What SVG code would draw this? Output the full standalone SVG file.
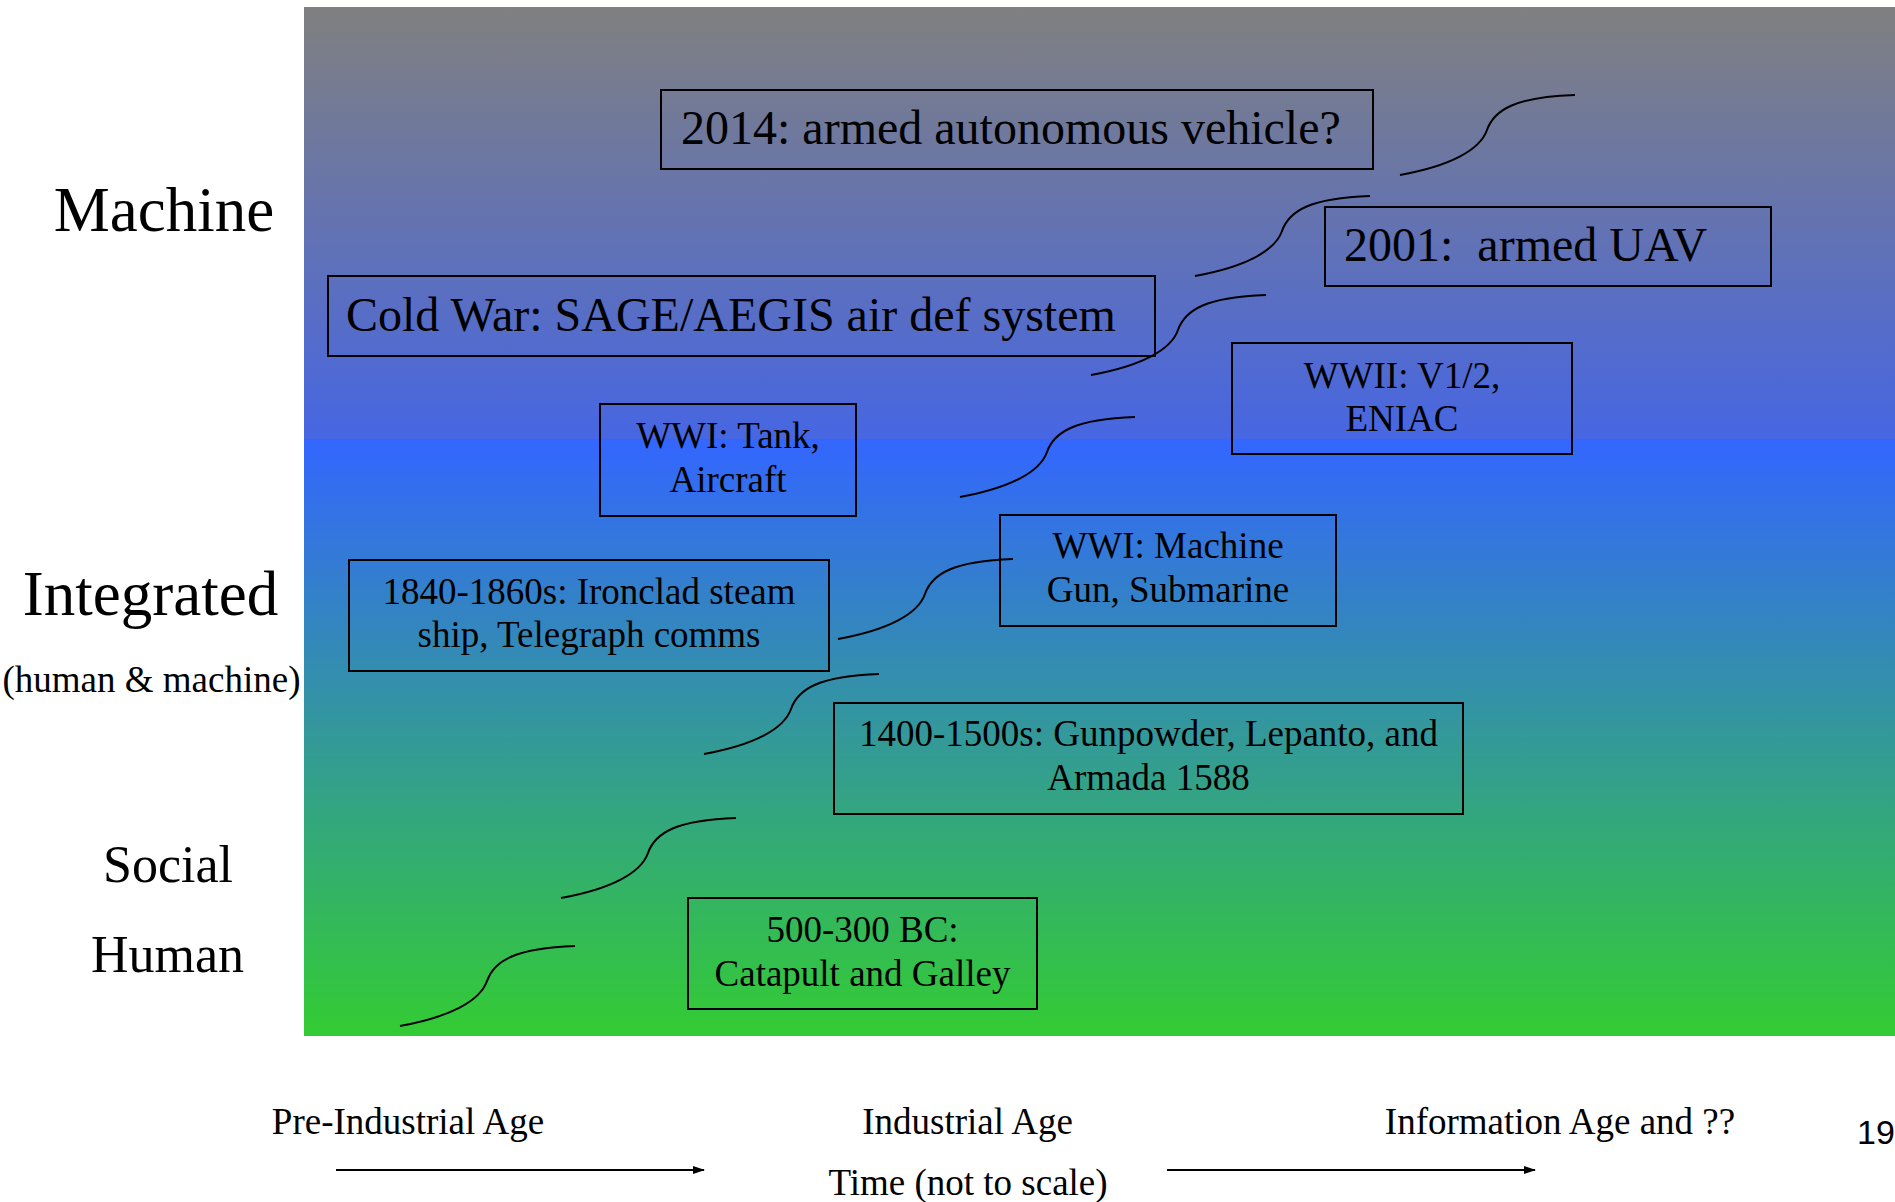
<svg xmlns="http://www.w3.org/2000/svg" width="1895" height="1202" viewBox="0 0 1895 1202">
<defs>
<linearGradient id="gTop" x1="0" y1="0" x2="0" y2="1">
<stop offset="0" stop-color="#808080"/>
<stop offset="1" stop-color="#4766E2"/>
</linearGradient>
<linearGradient id="gBot" x1="0" y1="0" x2="0" y2="1">
<stop offset="0" stop-color="#3366FF"/>
<stop offset="1" stop-color="#33CC33"/>
</linearGradient>
<path id="wave" d="M0,0 C50,-9 80,-25 87,-45 C94,-65 115,-78 175,-80" fill="none" stroke="#000" stroke-width="2"/>
<marker id="arr" markerWidth="12" markerHeight="8" refX="11" refY="4" orient="auto" markerUnits="userSpaceOnUse">
<path d="M0,0 L12,4 L0,8 z" fill="#000"/>
</marker>
</defs>
<style>
.box{fill:none;stroke:#000;stroke-width:2}
.serif{font-family:"Liberation Serif","Times New Roman",serif;fill:#000}
.t48{font-size:48px}
.t37{font-size:37px;text-anchor:middle}
.big{font-size:63px;text-anchor:middle}
.mid{font-size:52px;text-anchor:middle}
.axis{stroke:#000;stroke-width:2;fill:none}
</style>

<g id="background">
<rect x="304" y="7" width="1591" height="432" fill="url(#gTop)"/>
<rect x="304" y="439" width="1591" height="597" fill="url(#gBot)"/>
</g>

<g id="labels" class="serif">
<text class="big" x="164" y="231">Machine</text>
<text class="big" x="150.5" y="615">Integrated</text>
<text class="t37" x="151.5" y="692">(human &amp; machine)</text>
<text class="mid" x="168" y="882">Social</text>
<text class="mid" x="167.5" y="972">Human</text>
</g>

<g id="connectors">
<use href="#wave" x="1400" y="175"/>
<use href="#wave" x="1195" y="276"/>
<use href="#wave" x="1091" y="375"/>
<use href="#wave" x="960" y="497"/>
<use href="#wave" x="838" y="639"/>
<use href="#wave" x="704" y="754"/>
<use href="#wave" x="561" y="898"/>
<use href="#wave" x="400" y="1026"/>
</g>

<g id="node-2014" class="serif">
<rect class="box" x="661" y="90" width="712" height="79"/>
<text class="t48" x="681" y="144">2014: armed autonomous vehicle?</text>
</g>
<g id="node-2001" class="serif">
<rect class="box" x="1325" y="207" width="446" height="79"/>
<text class="t48" x="1344" y="261" xml:space="preserve">2001:  armed UAV</text>
</g>
<g id="node-coldwar" class="serif">
<rect class="box" x="328" y="276" width="827" height="80"/>
<text class="t48" x="346" y="331">Cold War: SAGE/AEGIS air def system</text>
</g>
<g id="node-wwii" class="serif">
<rect class="box" x="1232" y="343" width="340" height="111"/>
<text class="t37" x="1402" y="388">WWII: V1/2,</text>
<text class="t37" x="1402" y="431">ENIAC</text>
</g>
<g id="node-wwi-tank" class="serif">
<rect class="box" x="600" y="404" width="256" height="112"/>
<text class="t37" x="728" y="448">WWI: Tank,</text>
<text class="t37" x="728" y="492">Aircraft</text>
</g>
<g id="node-wwi-mg" class="serif">
<rect class="box" x="1000" y="515" width="336" height="111"/>
<text class="t37" x="1168" y="558">WWI: Machine</text>
<text class="t37" x="1168" y="602">Gun, Submarine</text>
</g>
<g id="node-1840" class="serif">
<rect class="box" x="349" y="560" width="480" height="111"/>
<text class="t37" x="589" y="604">1840-1860s: Ironclad steam</text>
<text class="t37" x="589" y="647">ship, Telegraph comms</text>
</g>
<g id="node-1400" class="serif">
<rect class="box" x="834" y="703" width="629" height="111"/>
<text class="t37" x="1148.5" y="746">1400-1500s: Gunpowder, Lepanto, and</text>
<text class="t37" x="1148.5" y="790">Armada 1588</text>
</g>
<g id="node-500bc" class="serif">
<rect class="box" x="688" y="898" width="349" height="111"/>
<text class="t37" x="862.5" y="942">500-300 BC:</text>
<text class="t37" x="862.5" y="986">Catapult and Galley</text>
</g>

<g id="timeline" class="serif">
<text class="t37" x="408" y="1134">Pre-Industrial Age</text>
<text class="t37" x="967.5" y="1134">Industrial Age</text>
<text class="t37" x="1560" y="1134">Information Age and ??</text>
<text class="t37" x="968" y="1195">Time (not to scale)</text>
<line class="axis" x1="336" y1="1170" x2="704" y2="1170" marker-end="url(#arr)"/>
<line class="axis" x1="1167" y1="1170" x2="1535" y2="1170" marker-end="url(#arr)"/>
</g>

<text x="1857" y="1144" font-family="'Liberation Sans', Arial, sans-serif" font-size="34" fill="#000">19</text>
</svg>
